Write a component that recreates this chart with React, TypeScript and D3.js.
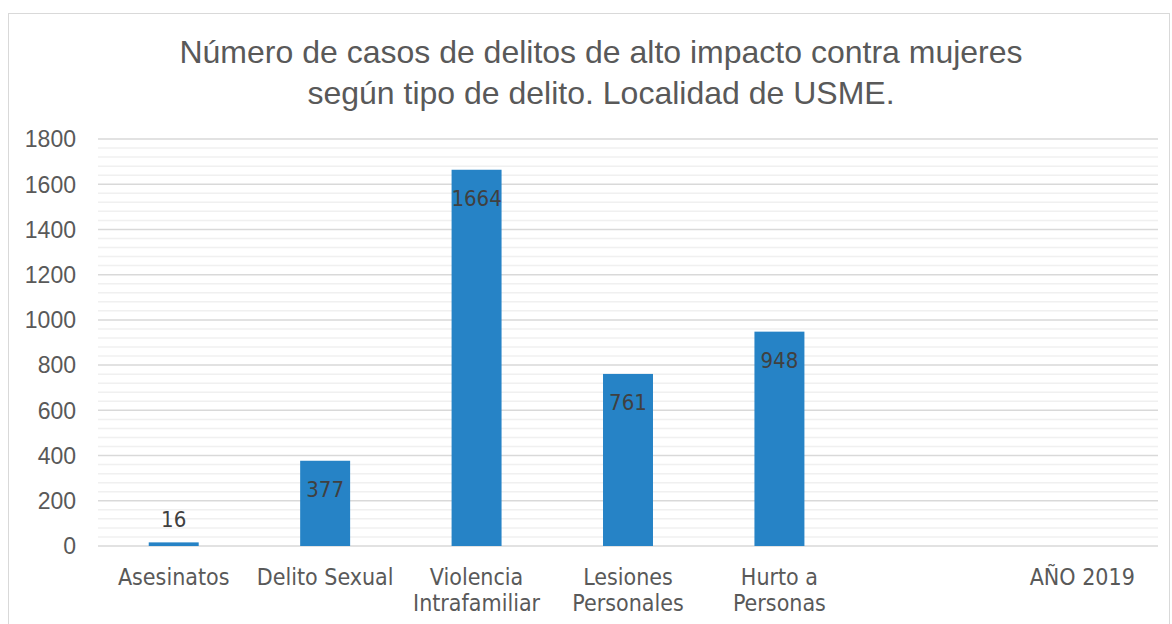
import { useMemo } from "react";
import * as d3 from "d3";

const WIDTH = 1172;
const HEIGHT = 624;
const MARGIN = { top: 139, right: 14, bottom: 78, left: 98 };

const categories = [
  "Asesinatos",
  "Delito Sexual",
  "Violencia\nIntrafamiliar",
  "Lesiones\nPersonales",
  "Hurto a\nPersonas",
  "",
  "AÑO 2019",
];
const values: (number | null)[] = [16, 377, 1664, 761, 948, null, null];
const yTicks = [0, 200, 400, 600, 800, 1000, 1200, 1400, 1600, 1800];
const titleLines = [
  "Número de casos de delitos de alto impacto contra mujeres",
  "según tipo de delito. Localidad de USME.",
];

const App = () => {
  const boundsWidth = WIDTH - MARGIN.left - MARGIN.right;
  const boundsHeight = HEIGHT - MARGIN.top - MARGIN.bottom;

  const xScale = useMemo(
    () =>
      d3
        .scaleBand<number>()
        .domain(d3.range(categories.length))
        .range([0, boundsWidth])
        .paddingInner(0.67)
        .paddingOuter(0.335),
    [boundsWidth]
  );

  const yScale = useMemo(
    () => d3.scaleLinear().domain([0, 1800]).range([boundsHeight, 0]),
    [boundsHeight]
  );

  const minorTicks = d3.range(0, 1801, 40).filter((v) => v % 200 !== 0);
  const step = boundsWidth / categories.length;

  return (
    <svg
      width={WIDTH}
      height={HEIGHT}
      style={{ position: "absolute", left: 0, top: 0, background: "#fff" }}
    >
      <rect x={8.5} y={13.5} width={1161} height={620} fill="#fff" stroke="#d9d9d9" />
      <g fill="#595959" fontFamily="'Liberation Sans', Arial, sans-serif" fontSize={32} textAnchor="middle">
        {titleLines.map((t, i) => (
          <text key={i} x={601} y={63 + i * 41}>
            {t}
          </text>
        ))}
      </g>
      <g transform={`translate(${MARGIN.left},${MARGIN.top})`}>
        {minorTicks.map((v) => (
          <line key={v} x1={0} x2={boundsWidth} y1={yScale(v)} y2={yScale(v)} stroke="#f0f0f0" strokeWidth={1.5} />
        ))}
        {yTicks.map((v) => (
          <line key={v} x1={0} x2={boundsWidth} y1={yScale(v)} y2={yScale(v)} stroke="#d9d9d9" strokeWidth={1.5} />
        ))}
        {yTicks.map((v) => (
          <text
            key={v}
            x={-22}
            y={yScale(v)}
            dy="0.36em"
            textAnchor="end"
            fill="#595959"
            fontFamily="'Liberation Sans', Arial, sans-serif"
            fontSize={23}
          >
            {v}
          </text>
        ))}
        {values.map((v, i) =>
          v === null ? null : (
            <rect
              key={i}
              x={xScale(i)}
              y={yScale(v)}
              width={xScale.bandwidth()}
              height={boundsHeight - yScale(v)}
              fill="#2683c6"
            />
          )
        )}
        {values.map((v, i) => {
          if (v === null) return null;
          const cx = (xScale(i) ?? 0) + xScale.bandwidth() / 2;
          const inside = boundsHeight - yScale(v) > 60;
          const y = inside ? yScale(v) + 28 : yScale(v) - 23;
          return (
            <text
              key={i}
              x={cx}
              y={y}
              dy="0.36em"
              textAnchor="middle"
              fill="#404040"
              fontFamily="'DejaVu Sans Condensed', 'DejaVu Sans', sans-serif"
              fontSize={22}
            >
              {v}
            </text>
          );
        })}
        {categories.map((c, i) => {
          const cx = step * i + step / 2;
          return (
            <text
              key={i}
              x={cx}
              y={boundsHeight + 39}
              textAnchor="middle"
              fill="#595959"
              fontFamily="'DejaVu Sans Condensed', 'DejaVu Sans', sans-serif"
              fontSize={23}
            >
              {c.split("\n").map((line, j) => (
                <tspan key={j} x={cx} dy={j === 0 ? 0 : 26}>
                  {line}
                </tspan>
              ))}
            </text>
          );
        })}
      </g>
    </svg>
  );
};

export default App;
